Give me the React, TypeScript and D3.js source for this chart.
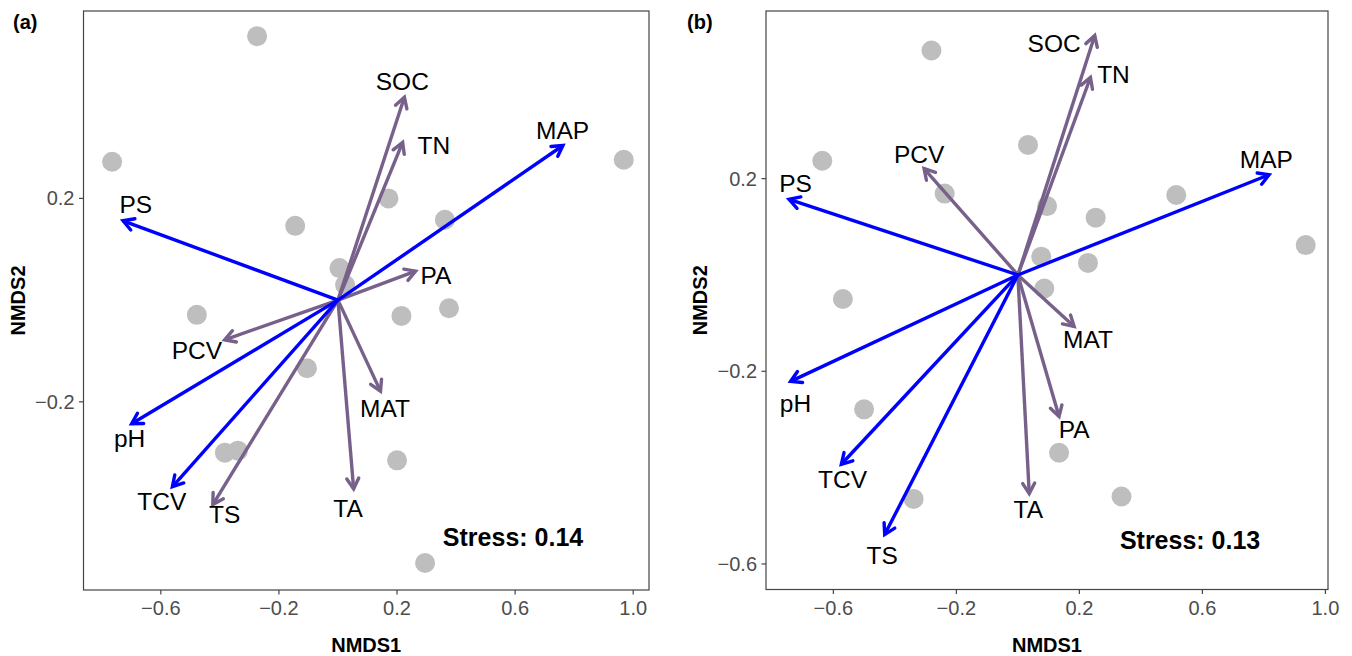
import React, { useRef, useEffect } from "react";
import * as d3 from "d3";

// environmental variables (same order for both panels)
const envNames = ["SOC", "TN", "MAP", "PS", "PA", "PCV", "MAT", "pH", "TCV", "TS", "TA"];

// ---- panel (a) ----
const sitesA_x = [-0.274, -0.765, 0.968, 0.171, -0.145, 0.362, 0.005, 0.024, -0.478, 0.215, 0.376, -0.105, -0.383, -0.339, 0.2, 0.295];
const sitesA_y = [0.519, 0.272, 0.276, 0.2, 0.146, 0.158, 0.063, 0.03, -0.029, -0.031, -0.016, -0.134, -0.3, -0.296, -0.315, -0.517];
const envA_x = [0.225, 0.219, 0.762, -0.728, 0.263, -0.384, 0.144, -0.699, -0.561, -0.424, 0.053];
const envA_y = [0.399, 0.31, 0.304, 0.156, 0.057, -0.078, -0.179, -0.243, -0.367, -0.402, -0.371];
const labA_x = [0.218, 0.325, 0.761, -0.685, 0.332, -0.478, 0.159, -0.706, -0.597, -0.384, 0.034];
const labA_y = [0.431, 0.304, 0.333, 0.189, 0.049, -0.099, -0.212, -0.272, -0.395, -0.421, -0.41];
const blueA = ["MAP", "PS", "pH", "TCV"];

// ---- panel (b) ----
const sitesB_x = [-0.281, -0.636, 0.033, -0.238, 0.095, 0.515, 0.253, 0.936, 0.076, 0.228, 0.086, -0.569, -0.5, 0.134, -0.339, 0.337];
const sitesB_y = [0.466, 0.237, 0.27, 0.169, 0.143, 0.166, 0.119, 0.062, 0.038, 0.025, -0.028, -0.05, -0.279, -0.369, -0.465, -0.46];
const envB_x = [0.25, 0.236, 0.817, -0.744, 0.134, -0.305, 0.183, -0.739, -0.574, -0.433, 0.037];
const envB_y = [0.497, 0.41, 0.208, 0.157, -0.294, 0.221, -0.107, -0.221, -0.393, -0.539, -0.454];
const labB_x = [0.118, 0.311, 0.808, -0.723, 0.183, -0.321, 0.228, -0.723, -0.57, -0.441, 0.034];
const labB_y = [0.481, 0.416, 0.24, 0.191, -0.321, 0.25, -0.134, -0.266, -0.424, -0.583, -0.487];
const blueB = ["MAP", "PS", "pH", "TCV", "TS"];

const xTicks = [-0.6, -0.2, 0.2, 0.6, 1.0];
const yTicksA = [-0.2, 0.2];
const yTicksB = [-0.6, -0.2, 0.2];

const BLUE = "#0000ff";
const PURPLE = "#77618a";
const FONT = "'Liberation Sans', Arial, Helvetica, sans-serif";

function drawPanel(svg, p) {
	const x = d3.scaleLinear().domain(p.xDomain).range([p.left, p.right]);
	const y = d3.scaleLinear().domain(p.yDomain).range([p.bottom, p.top]);
	const g = svg.append("g");
	const fmt = d3.format(".1f");

	// frame
	g.append("rect")
		.attr("x", p.left).attr("y", p.top)
		.attr("width", p.right - p.left).attr("height", p.bottom - p.top)
		.attr("fill", "white").attr("stroke", "#444").attr("stroke-width", 1.2);

	// x axis
	xTicks.forEach(t => {
		g.append("line").attr("x1", x(t)).attr("x2", x(t))
			.attr("y1", p.bottom).attr("y2", p.bottom + 4.5)
			.attr("stroke", "#444").attr("stroke-width", 1.2);
		g.append("text").attr("x", x(t)).attr("y", p.bottom + 25)
			.attr("text-anchor", "middle").attr("font-size", 20)
			.attr("font-family", FONT).attr("fill", "#4d4d4d").text(fmt(t));
	});
	// y axis
	p.yTicks.forEach(t => {
		g.append("line").attr("x1", p.left - 4.5).attr("x2", p.left)
			.attr("y1", y(t)).attr("y2", y(t))
			.attr("stroke", "#444").attr("stroke-width", 1.2);
		g.append("text").attr("x", p.left - 9).attr("y", y(t)).attr("dy", "0.35em")
			.attr("text-anchor", "end").attr("font-size", 20)
			.attr("font-family", FONT).attr("fill", "#4d4d4d").text(fmt(t));
	});

	// axis titles
	g.append("text").attr("x", (p.left + p.right) / 2).attr("y", 652)
		.attr("text-anchor", "middle").attr("font-size", 20).attr("font-weight", "bold")
		.attr("font-family", FONT).text("NMDS1");
	g.append("text")
		.attr("transform", `translate(${p.left - 59},${(p.top + p.bottom) / 2}) rotate(-90)`)
		.attr("text-anchor", "middle").attr("font-size", 20).attr("font-weight", "bold")
		.attr("font-family", FONT).text("NMDS2");

	// panel tag
	g.append("text").attr("x", p.tagX).attr("y", 29)
		.attr("font-size", 20).attr("font-weight", "bold")
		.attr("font-family", FONT).text(p.tag);

	// sites
	g.append("g").selectAll("circle")
		.data(p.sitesX.map((d, i) => [d, p.sitesY[i]]))
		.enter().append("circle")
		.attr("cx", d => x(d[0])).attr("cy", d => y(d[1]))
		.attr("r", 10).attr("fill", "#bebebe");

	// arrows, purple first then blue
	const env = envNames.map((n, i) => ({ n, ex: p.envX[i], ey: p.envY[i], lx: p.labX[i], ly: p.labY[i], blue: p.blue.includes(n) }));
	const ordered = env.filter(d => !d.blue).concat(env.filter(d => d.blue));
	const head = 12, a = Math.PI / 6;
	ordered.forEach(d => {
		const x1 = x(0), y1 = y(0), x2 = x(d.ex), y2 = y(d.ey);
		const ang = Math.atan2(y2 - y1, x2 - x1);
		const col = d.blue ? BLUE : PURPLE;
		g.append("line").attr("x1", x1).attr("y1", y1).attr("x2", x2).attr("y2", y2)
			.attr("stroke", col).attr("stroke-width", 3.4);
		const h1 = [x2 - head * Math.cos(ang - a), y2 - head * Math.sin(ang - a)];
		const h2 = [x2 - head * Math.cos(ang + a), y2 - head * Math.sin(ang + a)];
		g.append("path").attr("d", `M${h1[0]},${h1[1]}L${x2},${y2}L${h2[0]},${h2[1]}`)
			.attr("fill", "none").attr("stroke", col).attr("stroke-width", 3.4)
			.attr("stroke-linejoin", "miter").attr("stroke-linecap", "round");
	});

	// labels
	env.forEach(d => {
		g.append("text").attr("x", x(d.lx)).attr("y", y(d.ly)).attr("dy", "0.35em")
			.attr("text-anchor", "middle").attr("font-size", 24.5)
			.attr("font-family", FONT).attr("fill", "black").text(d.n);
	});

	g.append("text").attr("x", x(p.stressX)).attr("y", y(p.stressY)).attr("dy", "0.35em")
		.attr("text-anchor", "middle").attr("font-size", 25).attr("font-weight", "bold")
		.attr("font-family", FONT).text(p.stress);
}

const App = () => {
	const ref = useRef(null);

	useEffect(() => {
		const svg = d3.select(ref.current);
		svg.selectAll("*").remove();
		drawPanel(svg, {
			left: 83.5, right: 649, top: 11, bottom: 590,
			xDomain: [-0.862, 1.0535], yDomain: [-0.57, 0.5685], yTicks: yTicksA,
			sitesX: sitesA_x, sitesY: sitesA_y, envX: envA_x, envY: envA_y,
			labX: labA_x, labY: labA_y, blue: blueA,
			stress: "Stress: 0.14", stressX: 0.593, stressY: -0.466,
			tag: "(a)", tagX: 13
		});
		drawPanel(svg, {
			left: 766, right: 1328, top: 11, bottom: 589.5,
			xDomain: [-0.819, 1.0085], yDomain: [-0.653, 0.548], yTicks: yTicksB,
			sitesX: sitesB_x, sitesY: sitesB_y, envX: envB_x, envY: envB_y,
			labX: labB_x, labY: labB_y, blue: blueB,
			stress: "Stress: 0.13", stressX: 0.56, stressY: -0.55,
			tag: "(b)", tagX: 687
		});
	}, []);

	return (
		<svg ref={ref} width={1352} height={656}
			style={{ position: "absolute", left: 0, top: 0, background: "white" }}>
		</svg>
	);
};

export default App;
